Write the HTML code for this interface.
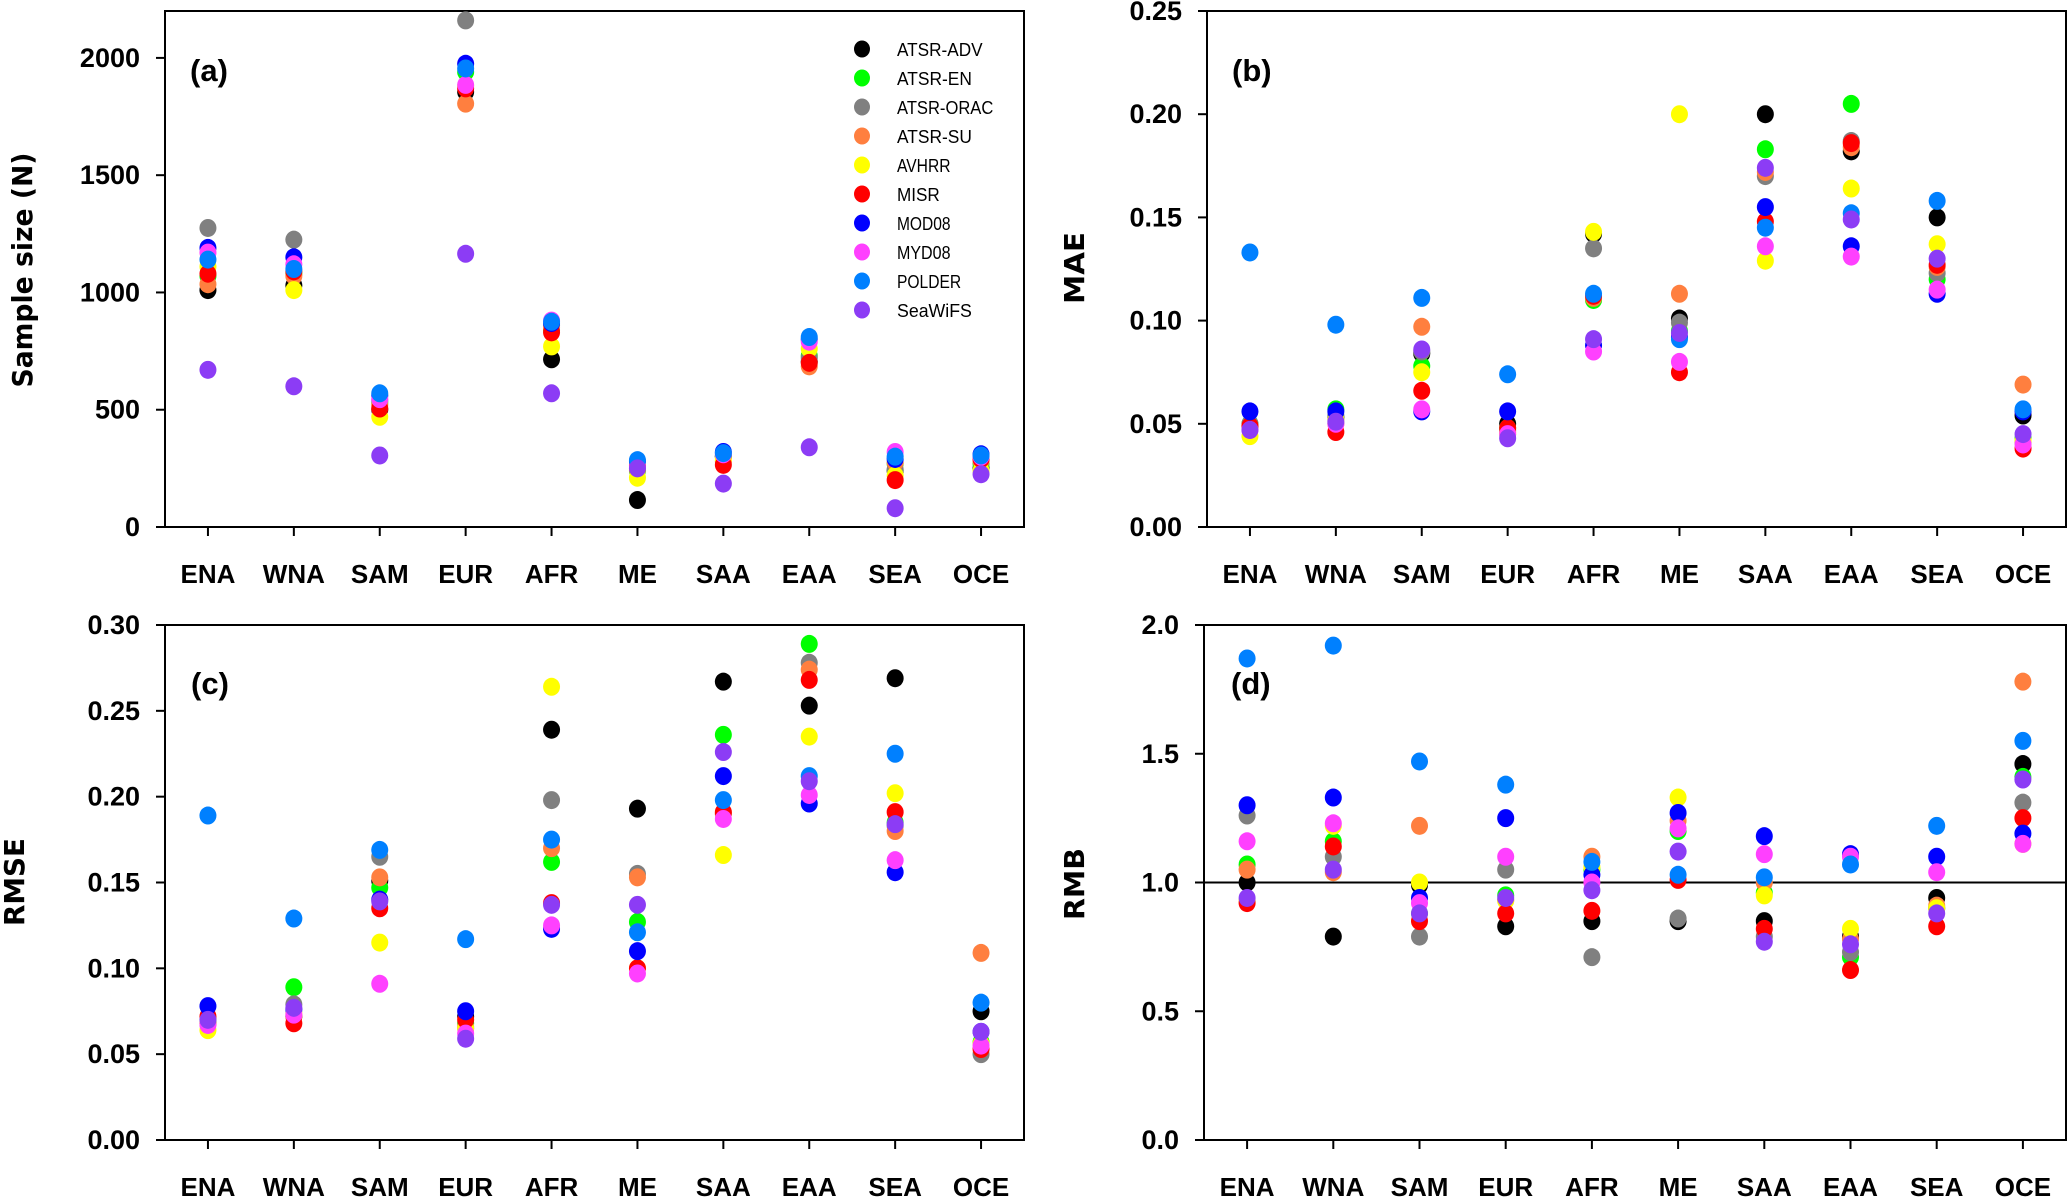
<!DOCTYPE html>
<html><head><meta charset="utf-8">
<style>
html,body{margin:0;padding:0;background:#fff;}
svg{display:block;}
text{font-family:"Liberation Sans",sans-serif;}
</style></head>
<body>
<svg id="fig" width="2067" height="1197" viewBox="0 0 2067 1197" xmlns="http://www.w3.org/2000/svg"></svg>
<script>
const categories = ["ENA","WNA","SAM","EUR","AFR","ME","SAA","EAA","SEA","OCE"];
const seriesNames = ["ATSR-ADV","ATSR-EN","ATSR-ORAC","ATSR-SU","AVHRR","MISR","MOD08","MYD08","POLDER","SeaWiFS"];
const seriesColors = ["#000000","#00ff00","#808080","#ff7f3f","#ffff00","#ff0000","#0000ff","#ff40ff","#0080ff","#8c3cf5"];

// Panel (a) Sample size, per series across categories
const sizeADV   = [1010,1030,500,1855,715,115,300,705,240,250];
const sizeEN    = [1070,1080,530,1940,840,240,300,730,270,270];
const sizeORAC  = [1275,1225,540,2160,860,250,305,720,245,290];
const sizeSU    = [1035,1070,520,1805,850,245,280,685,275,280];
const sizeAVHRR = [1110,1010,470,1880,770,210,290,760,220,240];
const sizeMISR  = [1080,1090,505,1870,830,260,265,700,200,290];
const sizeMOD08 = [1190,1150,560,1975,870,280,320,800,290,310];
const sizeMYD08 = [1170,1120,545,1885,880,255,310,790,320,300];
const sizePOLDER= [1140,1100,570,1955,875,285,315,810,300,305];
const sizeSeaWiFS=[670,600,305,1165,570,250,185,340,80,225];

// Panel (b) MAE
const maeADV   = [0.049,0.053,0.084,0.050,0.142,0.101,0.200,0.182,0.150,0.054];
const maeEN    = [0.050,0.057,0.078,0.048,0.110,0.095,0.183,0.205,0.120,0.043];
const maeORAC  = [0.050,0.054,0.085,0.047,0.135,0.099,0.170,0.187,0.123,0.041];
const maeSU    = [0.048,0.050,0.097,0.046,0.111,0.113,0.172,0.184,0.126,0.069];
const maeAVHRR = [0.044,0.052,0.075,0.045,0.143,0.200,0.129,0.164,0.137,0.042];
const maeMISR  = [0.049,0.046,0.066,0.048,0.112,0.075,0.148,0.186,0.127,0.038];
const maeMOD08 = [0.056,0.056,0.056,0.056,0.088,0.092,0.155,0.136,0.113,0.056];
const maeMYD08 = [0.047,0.050,0.057,0.045,0.085,0.080,0.136,0.131,0.115,0.040];
const maePOLDER= [0.133,0.098,0.111,0.074,0.113,0.091,0.145,0.152,0.158,0.057];
const maeSeaWiFS=[0.047,0.051,0.086,0.043,0.091,0.094,0.174,0.149,0.130,0.045];

// Panel (c) RMSE
const rmseADV   = [0.068,0.072,0.151,0.072,0.239,0.193,0.267,0.253,0.269,0.075];
const rmseEN    = [0.070,0.089,0.147,0.068,0.162,0.127,0.236,0.289,0.185,0.057];
const rmseORAC  = [0.070,0.079,0.165,0.065,0.198,0.155,0.190,0.278,0.183,0.050];
const rmseSU    = [0.068,0.072,0.153,0.066,0.170,0.153,0.190,0.274,0.180,0.109];
const rmseAVHRR = [0.064,0.074,0.115,0.065,0.264,0.100,0.166,0.235,0.202,0.056];
const rmseMISR  = [0.072,0.068,0.135,0.070,0.138,0.100,0.191,0.268,0.191,0.053];
const rmseMOD08 = [0.078,0.076,0.140,0.075,0.123,0.110,0.212,0.196,0.156,0.063];
const rmseMYD08 = [0.067,0.073,0.091,0.062,0.125,0.097,0.187,0.201,0.163,0.055];
const rmsePOLDER= [0.189,0.129,0.169,0.117,0.175,0.121,0.198,0.212,0.225,0.080];
const rmseSeaWiFS=[0.070,0.077,0.139,0.059,0.137,0.137,0.226,0.209,0.184,0.063];

// Panel (d) RMB
const rmbADV   = [1.00,0.79,0.99,0.83,0.85,0.85,0.85,0.79,0.94,1.46];
const rmbEN    = [1.07,1.16,0.88,0.95,1.05,1.20,0.96,0.71,0.90,1.41];
const rmbORAC  = [1.26,1.10,0.79,1.05,0.71,0.86,0.79,0.73,0.90,1.31];
const rmbSU    = [1.05,1.04,1.22,0.93,1.10,1.24,1.00,0.78,0.91,1.78];
const rmbAVHRR = [0.93,1.22,1.00,0.93,1.06,1.33,0.95,0.82,0.90,1.15];
const rmbMISR  = [0.92,1.14,0.85,0.88,0.89,1.01,0.82,0.66,0.83,1.25];
const rmbMOD08 = [1.30,1.33,0.94,1.25,1.03,1.27,1.18,1.11,1.10,1.19];
const rmbMYD08 = [1.16,1.23,0.92,1.10,1.00,1.21,1.11,1.10,1.04,1.15];
const rmbPOLDER= [1.87,1.92,1.47,1.38,1.08,1.03,1.02,1.07,1.22,1.55];
const rmbSeaWiFS=[0.94,1.05,0.88,0.94,0.97,1.12,0.77,0.76,0.88,1.40];

const ticksA = ["0","500","1000","1500","2000"];
const ticksB = ["0.00","0.05","0.10","0.15","0.20","0.25"];
const ticksC = ["0.00","0.05","0.10","0.15","0.20","0.25","0.30"];
const ticksD = ["0.0","0.5","1.0","1.5","2.0"];

const NS = "http://www.w3.org/2000/svg";
const svg = document.getElementById("fig");
function mk(tag, attrs, parent){
  const e = document.createElementNS(NS, tag);
  for (const k in attrs) e.setAttribute(k, attrs[k]);
  (parent||svg).appendChild(e);
  return e;
}

const panels = [
  {id:"a", x0:165, x1:1024, y0:11, y1:527, ymax:2200, ticks:ticksA, title:"Sample size (N)", titleX:22, titleY:270, titleLen:235, labX:190, labY:70,
   data:[sizeADV,sizeEN,sizeORAC,sizeSU,sizeAVHRR,sizeMISR,sizeMOD08,sizeMYD08,sizePOLDER,sizeSeaWiFS], legend:true},
  {id:"b", x0:1207, x1:2066, y0:11, y1:527, ymax:0.25, ticks:ticksB, title:"MAE", titleX:1074, titleY:268, titleLen:72, labX:1232, labY:70,
   data:[maeADV,maeEN,maeORAC,maeSU,maeAVHRR,maeMISR,maeMOD08,maeMYD08,maePOLDER,maeSeaWiFS]},
  {id:"c", x0:165, x1:1024, y0:625, y1:1140, ymax:0.30, ticks:ticksC, title:"RMSE", titleX:14, titleY:882, titleLen:88, labX:191, labY:683,
   data:[rmseADV,rmseEN,rmseORAC,rmseSU,rmseAVHRR,rmseMISR,rmseMOD08,rmseMYD08,rmsePOLDER,rmseSeaWiFS]},
  {id:"d", x0:1204, x1:2066, y0:625, y1:1140, ymax:2.0, ticks:ticksD, title:"RMB", titleX:1074, titleY:884, titleLen:72, labX:1231, labY:683,
   data:[rmbADV,rmbEN,rmbORAC,rmbSU,rmbAVHRR,rmbMISR,rmbMOD08,rmbMYD08,rmbPOLDER,rmbSeaWiFS], refLine:1.0}
];

panels.forEach(p=>{
  const g = mk("g",{});
  
  
  const xs = i => p.x0 + (i+0.5)*(p.x1-p.x0)/categories.length;
  const ys = v => p.y1 - v/p.ymax*(p.y1-p.y0);

  const frame = mk("rect",{x:p.x0,y:p.y0,width:p.x1-p.x0,height:p.y1-p.y0,fill:"none",stroke:"#000","stroke-width":2},g);
  
  

  p.ticks.forEach(t=>{
    const v = parseFloat(t);
    const y = ys(v);
    const tk = mk("line",{x1:p.x0-9,x2:p.x0,y1:y,y2:y,stroke:"#000","stroke-width":2},g);
    
    
    const tl = mk("text",{x:p.x0-25,y:y+9,"text-anchor":"end","font-size":27,"font-weight":"bold",fill:"#000"},g);
    tl.textContent = t;
    
    
  });
  categories.forEach((c,i)=>{
    const x = xs(i);
    const tk = mk("line",{x1:x,x2:x,y1:p.y1,y2:p.y1+9,stroke:"#000","stroke-width":2},g);
    
    
    const tl = mk("text",{x:x,y:p.y1+56,"text-anchor":"middle","font-size":26,"font-weight":"bold",fill:"#000"},g);
    tl.textContent = c;
    
    
  });
  const tt = mk("text",{x:0,y:0,"text-anchor":"middle","font-size":28,"font-weight":"bold",fill:"#000",
    transform:`translate(${p.titleX+10},${p.titleY}) rotate(-90)`,textLength:p.titleLen,lengthAdjust:"spacingAndGlyphs",
    style:'font-family:"DejaVu Sans",sans-serif'},g);
  tt.textContent = p.title;
  
  
  const pl = mk("text",{x:p.labX,y:p.labY+11,"font-size":31,"font-weight":"bold",fill:"#000"},g);
  pl.textContent = "(" + p.id + ")";
  
  
  if (p.refLine !== undefined){
    const rl = mk("line",{x1:p.x0,x2:p.x1,y1:ys(p.refLine),y2:ys(p.refLine),stroke:"#000","stroke-width":2},g);
    
    
  }
  p.data.forEach((arr,s)=>{
    arr.forEach((v,i)=>{
      const c = mk("ellipse",{cx:xs(i),cy:ys(v),rx:8.5,ry:9,fill:seriesColors[s]},g);
      
      
    });
  });
  if (p.legend){
    const lg = mk("g",{},g);
    
    
    seriesNames.forEach((n,s)=>{
      const y = 49 + s*29;
      const m = mk("ellipse",{cx:862,cy:y,rx:8,ry:8.5,fill:seriesColors[s]},lg);
      
      
      const t = mk("text",{x:897,y:y+7,"font-size":18,fill:"#000",textLength:n.length*10.7,lengthAdjust:"spacingAndGlyphs"},lg);
      t.textContent = n;
      
      
    });
  }
});
</script>
</body></html>
